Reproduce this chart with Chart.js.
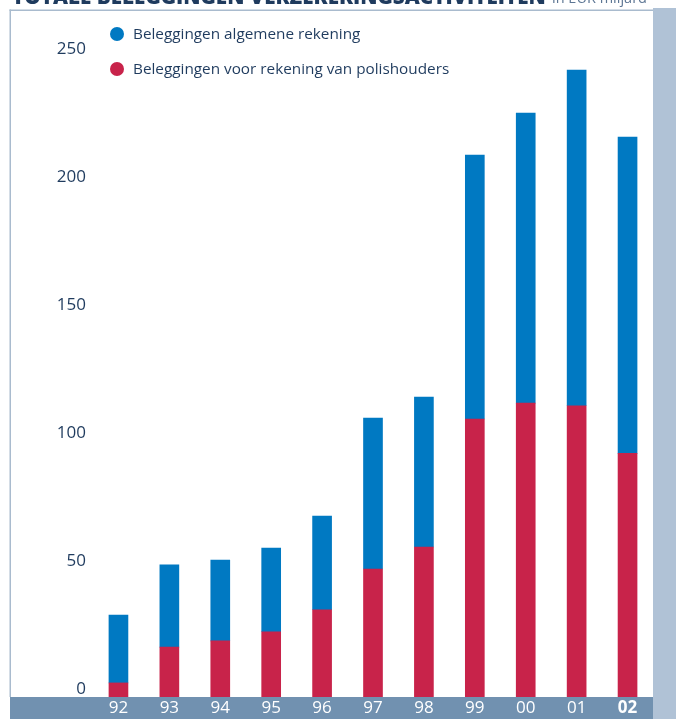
<!DOCTYPE html>
<html>
<head>
<meta charset="utf-8">
<script src="https://cdn.jsdelivr.net/npm/chart.js@4.4.1/dist/chart.umd.min.js"></script>
<style>
  html, body { margin: 0; padding: 0; background: #fff; }
  #wrap { position: relative; width: 676px; height: 719px; overflow: hidden; }
</style>
</head>
<body>
<div id="wrap"><canvas id="c" width="676" height="719"></canvas></div>
<script>
/* Totale beleggingen verzekeringsactiviteiten, in EUR miljard */
var YEARS = ['92', '93', '94', '95', '96', '97', '98', '99', '00', '01', '02'];
var POLISHOUDERS = [5.5, 19.5, 21.9, 25.5, 34.1, 50.0, 58.6, 108.6, 114.8, 113.8, 95.2];
var ALGEMEEN = [26.5, 32.1, 31.6, 32.7, 36.6, 59.0, 58.6, 103.1, 113.3, 131.1, 123.6];
var Y_TICKS = [0, 50, 100, 150, 200, 250];

var INK = { text: '#1f3b5e', soft: '#5d7694', blue: '#0079c2', red: '#c8234a',
  frame: '#a9bbce', band: '#b0c2d6', foot: '#7191b0' };
var FAMILY = "'Open Sans', 'Noto Sans', sans-serif";
var TITLE = 'TOTALE BELEGGINGEN VERZEKERINGSACTIVITEITEN';

/* frame, bands, title and the two-line legend — drawn straight on the canvas */
var decor = {
  id: 'decor',
  beforeDraw: function (c) {
    var g = c.ctx, a = c.chartArea;
    g.save();
    g.fillStyle = INK.band;
    g.fillRect(a.right, 8, 676 - a.right, 719);
    g.fillStyle = INK.foot;
    g.fillRect(10, a.bottom, a.right - 10, 719 - a.bottom);
    g.fillStyle = INK.frame;
    g.fillRect(9.5, 9.5, a.right - 9.5, 1.5);
    g.fillRect(9.5, 9.5, 1.5, a.bottom - 9.5);
    g.restore();
  },
  afterDraw: function (c) {
    var g = c.ctx;
    g.save();
    g.textBaseline = 'alphabetic';
    g.fillStyle = INK.text;
    // size the bold title so it spans the same 533px as the print original
    g.font = '800 18px ' + FAMILY;
    var size = 18 * 533 / g.measureText(TITLE).width;
    g.font = '800 ' + size.toFixed(1) + 'px ' + FAMILY;
    g.fillText(TITLE, 12, 4);
    g.fillStyle = INK.soft;
    g.font = '400 14.5px ' + FAMILY;
    g.fillText('in EUR miljard', 552, 3);

    var items = [c.data.datasets[1], c.data.datasets[0]];
    g.font = '400 15.3px ' + FAMILY;
    g.textBaseline = 'middle';
    items.forEach(function (d, i) {
      var y = 34 + i * 35;
      g.fillStyle = d.backgroundColor;
      g.beginPath();
      g.arc(117, y, 7, 0, Math.PI * 2);
      g.fill();
      g.fillStyle = INK.text;
      g.fillText(d.label, 133, y + 1);
    });
    g.restore();
  }
};

new Chart(document.getElementById('c'), {
  type: 'bar',
  data: {
    labels: YEARS,
    datasets: [
      { label: 'Beleggingen voor rekening van polishouders', data: POLISHOUDERS,
        backgroundColor: INK.red, barThickness: 19 },
      { label: 'Beleggingen algemene rekening', data: ALGEMEEN,
        backgroundColor: INK.blue, barThickness: 19 }
    ]
  },
  options: {
    responsive: false,
    animation: false,
    layout: { padding: { top: 20, right: 23, left: 0, bottom: 0 } },
    plugins: { legend: { display: false }, tooltip: { enabled: false } },
    scales: {
      x: {
        stacked: true,
        grid: { display: false, drawTicks: false },
        border: { display: false },
        afterFit: function (s) { s.height = 22; },
        ticks: {
          color: '#ffffff',
          padding: 1,
          maxRotation: 0,
          autoSkip: false,
          font: function (ctx) {
            return { family: FAMILY, size: 17, weight: ctx.index === YEARS.length - 1 ? '700' : '400' };
          }
        }
      },
      y: {
        stacked: true,
        min: 0,
        max: 264.5,
        grid: { display: false, drawTicks: false },
        border: { display: false },
        afterFit: function (s) { s.width = 93; },
        afterBuildTicks: function (s) {
          s.ticks = Y_TICKS.map(function (v) { return { value: v }; });
        },
        ticks: {
          color: INK.text,
          padding: 7,
          labelOffset: -8,
          font: { family: FAMILY, size: 17, weight: '400' }
        }
      }
    }
  },
  plugins: [decor]
});
</script>
</body>
</html>
